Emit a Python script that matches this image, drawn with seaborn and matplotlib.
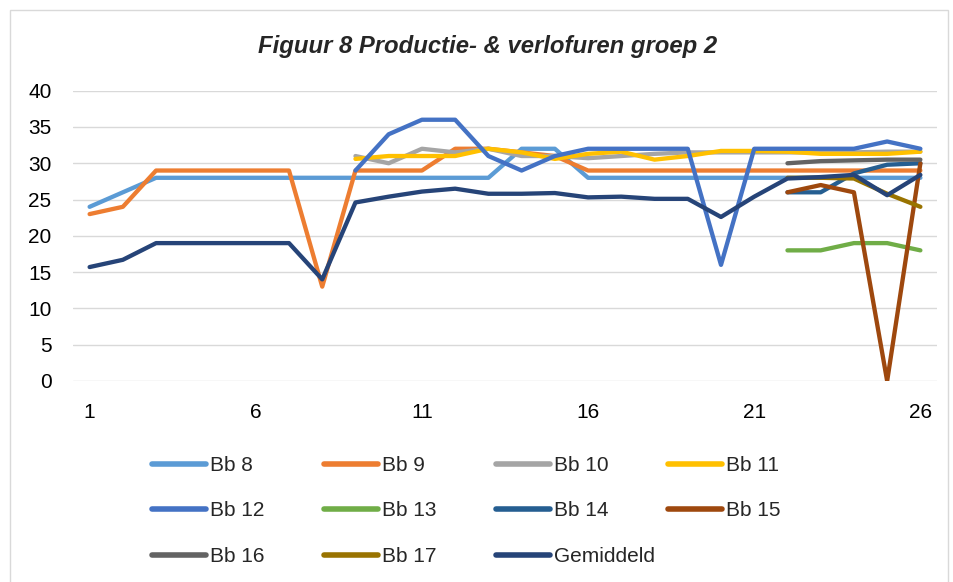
import numpy as np
import pandas as pd
import matplotlib
matplotlib.use("Agg")
import matplotlib.pyplot as plt
from matplotlib.lines import Line2D
from matplotlib.patches import Rectangle
import seaborn as sns

nan = np.nan

# Weken 1 t/m 26
weken = list(range(1, 27))

bb8 = [24, 26, 28, 28, 28, 28, 28, 28, 28, 28, 28, 28, 28, 32, 32, 28, 28, 28, 28, 28, 28, 28, 28, 28, 28, 28]
bb9 = [23, 24, 29, 29, 29, 29, 29, 13, 29, 29, 29, 32, 32, 31.5, 31, 29, 29, 29, 29, 29, 29, 29, 29, 29, 29, 29]
bb10 = [nan] * 8 + [31, 30, 32, 31.5, 32, 31, 31, 30.7, 31, 31.3, 31.5, 31.5, 31.5, 31.5, 31.5, 31.5, 31.6, 31.6]
bb11 = [nan] * 8 + [30.6, 31, 31, 31, 32, 31.5, 30.6, 31.3, 31.6, 30.5, 31, 31.7, 31.7, 31.6, 31.3, 31.3, 31.3, 31.6]
bb12 = [nan] * 8 + [29, 34, 36, 36, 31, 29, 31, 32, 32, 32, 32, 16, 32, 32, 32, 32, 33, 32]
bb13 = [nan] * 21 + [18, 18, 19, 19, 18]
bb14 = [nan] * 21 + [26, 26, 28.6, 29.8, 30]
bb15 = [nan] * 21 + [26, 27, 26, 0, 30]
bb16 = [nan] * 21 + [30, 30.3, 30.4, 30.5, 30.5]
bb17 = [nan] * 21 + [28, 28, 27.9, 25.8, 24]
gemiddeld = [15.7, 16.7, 19, 19, 19, 19, 19, 14, 24.6, 25.4, 26.1, 26.5, 25.8, 25.8, 25.9, 25.3,
             25.4, 25.1, 25.1, 22.6, 25.4, 27.9, 28.1, 28.4, 25.6, 28.4]

namen = ["Bb 8", "Bb 9", "Bb 10", "Bb 11", "Bb 12", "Bb 13", "Bb 14", "Bb 15", "Bb 16", "Bb 17", "Gemiddeld"]
reeksen = [bb8, bb9, bb10, bb11, bb12, bb13, bb14, bb15, bb16, bb17, gemiddeld]
kleuren = ["#5B9BD5", "#ED7D31", "#A5A5A5", "#FFC000", "#4472C4", "#70AD47",
           "#255E91", "#9E480E", "#636363", "#997300", "#264478"]

# Lange tabel voor seaborn
df = pd.DataFrame({naam: waarden for naam, waarden in zip(namen, reeksen)})
df["week"] = weken
df = df.melt(id_vars="week", var_name="serie", value_name="uren").dropna()

sns.set_style("white")
plt.rcParams["font.family"] = ["Liberation Sans", "DejaVu Sans"]

fig = plt.figure(figsize=(9.54, 5.82), dpi=100)
ax = fig.add_axes([73 / 954, 1 - 381 / 582, (937 - 73) / 954, (381 - 90.7) / 582])

sns.lineplot(data=df, x="week", y="uren", hue="serie", hue_order=namen,
             palette=kleuren, linewidth=3.1, legend=False, ax=ax,
             solid_capstyle="round", solid_joinstyle="round")

ax.set_xlim(0.5, 26.5)
ax.set_ylim(0, 40)
ax.set_xticks([1, 6, 11, 16, 21, 26])
ax.set_yticks(range(0, 41, 5))
ax.set_xlabel("")
ax.set_ylabel("")
ax.tick_params(axis="both", length=0, labelsize=15, colors="#000000")
ax.tick_params(axis="x", pad=15.5)
ax.tick_params(axis="y", pad=15.5)
ax.yaxis.grid(True, color="#D9D9D9", linewidth=1.0)
ax.set_axisbelow(True)
for s in ax.spines.values():
    s.set_visible(False)

# Titel
fig.text(488 / 954, 1 - 46 / 582, "Figuur 8 Productie- & verlofuren groep 2",
         ha="center", va="center", fontsize=17.2, fontweight="bold", fontstyle="italic")

# Legenda in vier kolommen, zoals in Excel
kolommen = [[0, 4, 8], [1, 5, 9], [2, 6, 10], [3, 7]]
kolom_x = [152, 324, 496, 668]
for kol, x0 in zip(kolommen, kolom_x):
    handles = [Line2D([], [], color=kleuren[i], linewidth=4, solid_capstyle="round") for i in kol]
    labels = [namen[i] for i in kol]
    leg = fig.legend(handles, labels, loc="upper left", bbox_to_anchor=(x0 / 954, 1 - 456 / 582),
                     frameon=False, fontsize=15, handlelength=2.6, handletextpad=0.2,
                     borderpad=0, borderaxespad=0, labelspacing=1.27)

# Rand om de grafiek
fig.patches.append(Rectangle((10 / 954, -0.02), 938 / 954, 1 - 10 / 582 + 0.02,
                             transform=fig.transFigure, fill=False,
                             edgecolor="#D9D9D9", linewidth=1.0))

fig.savefig("out.png", dpi=100)
